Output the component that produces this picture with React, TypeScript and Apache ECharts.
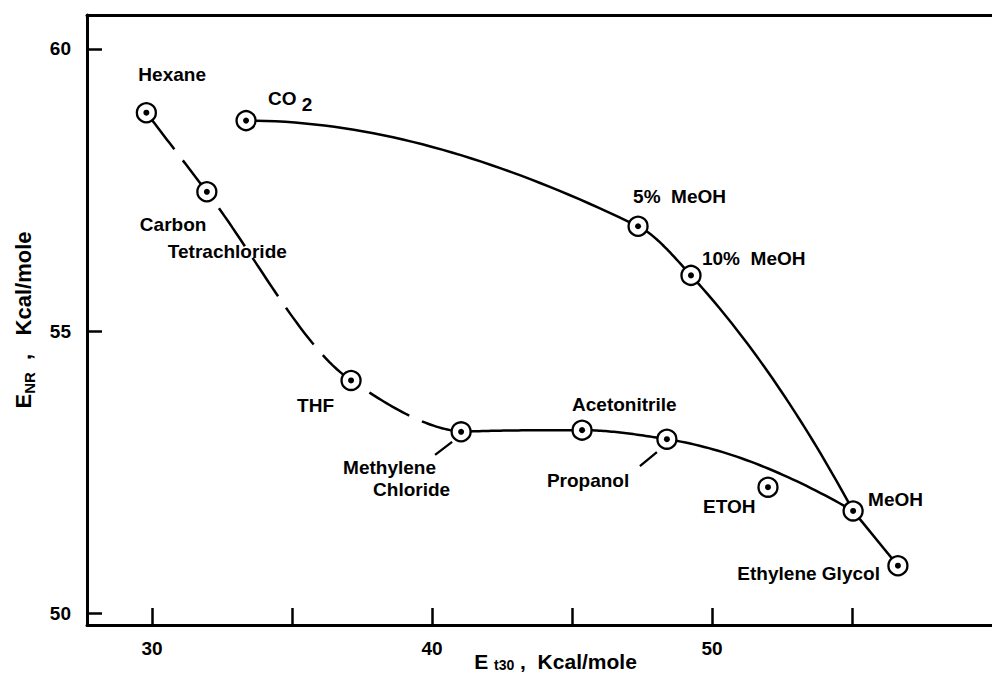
import React, { useEffect, useRef } from 'react';
import * as echarts from 'echarts';

// ---- data ----
const pointNames = [
  'Hexane', 'Carbon Tetrachloride', 'CO2', 'THF', 'Methylene Chloride', 'Acetonitrile',
  'Propanol', '5% MeOH', '10% MeOH', 'ETOH', 'MeOH', 'Ethylene Glycol',
];
const et30Values = [29.8, 31.96, 33.36, 37.11, 41.04, 45.36, 48.39, 47.36, 49.25, 52.0, 55.04, 56.64];
const enrValues = [58.87, 57.47, 58.73, 54.13, 53.22, 53.25, 53.09, 56.86, 55.99, 52.24, 51.82, 50.85];

// hand-drawn curves through the points (order along each curve)
const solventDashedPath = ['Hexane', 'Carbon Tetrachloride', 'THF', 'Methylene Chloride'];
const solventSolidPath = ['Methylene Chloride', 'Acetonitrile', 'Propanol', 'MeOH'];
const glycolPath = ['MeOH', 'Ethylene Glycol'];
const co2Path = ['CO2', '5% MeOH', '10% MeOH', 'MeOH'];

const xTickValues = [30, 35, 40, 45, 50, 55];
const xLabelValues = [30, 40, 50];
const yTickValues = [50, 55, 60];
const yLabelValues = [50, 55, 60];

// ---- label layout (presentation only) ----
const FONT = "'Liberation Sans', Arial, Helvetica, sans-serif";
const labelText: Record<string, string> = {
  'Hexane': '{t|Hexane}',
  'Carbon Tetrachloride': '{c|Carbon}\n{ci|Tetrachloride}',
  'CO2': '{t|CO }{sub|2}',
  'THF': '{t|THF}',
  'Methylene Chloride': '{m|Methylene}\n{mi|Chloride}',
  'Acetonitrile': '{t|Acetonitrile}',
  'Propanol': '{t|Propanol}',
  '5% MeOH': '{t|5%  MeOH}',
  '10% MeOH': '{t|10%  MeOH}',
  'ETOH': '{t|ETOH}',
  'MeOH': '{t|MeOH}',
  'Ethylene Glycol': '{t|Ethylene Glycol}',
};
const labelPlace: Record<string, [number, number, string]> = {
  'Hexane': [-8, -38, 'left'],
  'Carbon Tetrachloride': [-67, 46, 'left'],
  'CO2': [22, -22, 'left'],
  'THF': [-54, 25, 'left'],
  'Methylene Chloride': [-118, 47, 'left'],
  'Acetonitrile': [-10, -26, 'left'],
  'Propanol': [-120, 41, 'left'],
  '5% MeOH': [-5, -30, 'left'],
  '10% MeOH': [11, -17, 'left'],
  'ETOH': [-65, 19, 'left'],
  'MeOH': [15, -11, 'left'],
  'Ethylene Glycol': [-18, 8, 'right'],
};
// leader lines: start dx, dy, end dx, dy relative to the marker centre (pixels)
const leaderNames = ['Methylene Chloride', 'Propanol'];
const leaderPlace: Record<string, [number, number, number, number]> = {
  'Methylene Chloride': [-9, 10, -26, 23],
  'Propanol': [-10, 13, -27, 27],
};

const pt = (name: string) => {
  const i = pointNames.indexOf(name);
  return [et30Values[i], enrValues[i]];
};

// monotone cubic (PCHIP) through pixel points, sampled for drawing
function endSlope(h0: number, h1: number, d0: number, d1: number) {
  let m = ((2 * h0 + h1) * d0 - h0 * d1) / (h0 + h1);
  if (Math.sign(m) !== Math.sign(d0)) m = 0;
  else if (Math.sign(d0) !== Math.sign(d1) && Math.abs(m) > Math.abs(3 * d0)) m = 3 * d0;
  return m;
}
function pchipSample(p: number[][], steps = 40): number[][] {
  const n = p.length;
  if (n < 3) return p;
  const h: number[] = [];
  const d: number[] = [];
  for (let i = 0; i < n - 1; i++) {
    h.push(p[i + 1][0] - p[i][0]);
    d.push((p[i + 1][1] - p[i][1]) / h[i]);
  }
  const m: number[] = new Array(n).fill(0);
  for (let i = 1; i < n - 1; i++) {
    if (d[i - 1] * d[i] <= 0) m[i] = 0;
    else {
      const w1 = 2 * h[i] + h[i - 1];
      const w2 = h[i] + 2 * h[i - 1];
      m[i] = (w1 + w2) / (w1 / d[i - 1] + w2 / d[i]);
    }
  }
  m[0] = endSlope(h[0], h[1], d[0], d[1]);
  m[n - 1] = endSlope(h[n - 2], h[n - 3], d[n - 2], d[n - 3]);
  const out: number[][] = [p[0]];
  for (let i = 0; i < n - 1; i++) {
    for (let k = 1; k <= steps; k++) {
      const t = k / steps;
      const t2 = t * t, t3 = t2 * t;
      const h00 = 2 * t3 - 3 * t2 + 1, h10 = t3 - 2 * t2 + t;
      const h01 = -2 * t3 + 3 * t2, h11 = t3 - t2;
      const x = p[i][0] + t * h[i];
      const y = h00 * p[i][1] + h10 * h[i] * m[i] + h01 * p[i + 1][1] + h11 * h[i] * m[i + 1];
      out.push([x, y]);
    }
  }
  return out;
}

const baseText = { fontFamily: FONT, fontWeight: 'bold' as const, fontSize: 19, color: '#000' };

function curveSeries(path: string[], dash: number[] | null) {
  return {
    type: 'custom',
    coordinateSystem: 'cartesian2d',
    data: path.map(pt),
    silent: true,
    clip: false,
    z: 2,
    renderItem: (params: any, api: any) => {
      if (params.dataIndex !== 0) return null;
      const pix = path.map((n) => api.coord(pt(n)));
      return {
        type: 'polyline',
        shape: { points: pchipSample(pix) },
        style: {
          stroke: '#000',
          lineWidth: 2.5,
          fill: null,
          lineDash: dash || undefined,
          lineJoin: 'round',
        },
      };
    },
  };
}

export default function App() {
  const ref = useRef<HTMLDivElement>(null);
  useEffect(() => {
    const chart = echarts.init(ref.current!, null, { renderer: 'svg' });
    const ringData = pointNames.map((n, i) => {
      const [dx, dy, align] = labelPlace[n];
      return {
        name: n,
        value: [et30Values[i], enrValues[i]],
        label: {
          show: true,
          position: 'inside',
          offset: [dx, dy],
          align,
          verticalAlign: 'middle',
          formatter: labelText[n],
        },
      };
    });
    const option: any = {
      animation: false,
      backgroundColor: '#fff',
      grid: { left: 87, right: 0, top: 15, bottom: 54, containLabel: false, outerBoundsMode: 'none' },
      xAxis: [
        {
          type: 'value',
          min: 27.68,
          max: 60,
          position: 'bottom',
          splitLine: { show: false },
          axisLine: { show: true, onZero: false, lineStyle: { color: '#000', width: 3 } },
          axisTick: {
            show: true, inside: true, length: 17, customValues: xTickValues,
            lineStyle: { color: '#000', width: 2.5 },
          },
          axisLabel: {
            show: true, customValues: xLabelValues, margin: 14,
            fontFamily: FONT, fontWeight: 'bold', fontSize: 19, color: '#000',
          },
          name: '{m|E }{s|t30}{m| ,  Kcal/mole}',
          nameLocation: 'middle',
          nameGap: 25,
          nameMoveOverlap: false,
          nameTextStyle: {
            padding: [0, 0, 0, 32],
            rich: {
              m: { fontFamily: FONT, fontWeight: 'bold', fontSize: 21, color: '#000', lineHeight: 22 },
              s: { fontFamily: FONT, fontWeight: 'bold', fontSize: 14, color: '#000', padding: [8, 0, 0, 0] },
            },
          },
        },
        {
          type: 'value',
          min: 27.68,
          max: 60,
          position: 'top',
          splitLine: { show: false },
          axisLine: { show: true, onZero: false, lineStyle: { color: '#000', width: 3 } },
          axisTick: { show: false },
          axisLabel: { show: false },
        },
      ],
      yAxis: {
        type: 'value',
        min: 49.8,
        max: 60.6,
        splitLine: { show: false },
        axisLine: { show: true, onZero: false, lineStyle: { color: '#000', width: 3 } },
        axisTick: {
          show: true, inside: true, length: 15, customValues: yTickValues,
          lineStyle: { color: '#000', width: 2.5 },
        },
        axisLabel: {
          show: true, customValues: yLabelValues, margin: 16,
          fontFamily: FONT, fontWeight: 'bold', fontSize: 19, color: '#000',
        },
        name: '{m|E}{s|NR}{m|  ,   Kcal/mole}',
        nameLocation: 'middle',
        nameRotate: 90,
        nameGap: 50,
        nameMoveOverlap: false,
        nameTextStyle: {
          rich: {
            m: { fontFamily: FONT, fontWeight: 'bold', fontSize: 22, color: '#000', lineHeight: 24 },
            s: { fontFamily: FONT, fontWeight: 'bold', fontSize: 15, color: '#000', padding: [12, 0, 0, 0] },
          },
        },
      },
      series: [
        curveSeries(solventDashedPath, [46, 14]),
        curveSeries(solventSolidPath, null),
        curveSeries(glycolPath, null),
        curveSeries(co2Path, null),
        {
          type: 'custom',
          coordinateSystem: 'cartesian2d',
          data: leaderNames.map(pt),
          silent: true,
          clip: false,
          z: 2,
          renderItem: (params: any, api: any) => {
            const c = api.coord([api.value(0), api.value(1)]);
            const lp = leaderPlace[leaderNames[params.dataIndex]];
            return {
              type: 'line',
              shape: { x1: c[0] + lp[0], y1: c[1] + lp[1], x2: c[0] + lp[2], y2: c[1] + lp[3] },
              style: { stroke: '#000', lineWidth: 2.3 },
            };
          },
        },
        {
          type: 'scatter',
          data: ringData,
          symbol: 'circle',
          symbolSize: 19,
          silent: true,
          z: 3,
          itemStyle: { color: '#fff', borderColor: '#000', borderWidth: 2.3, opacity: 1 },
          label: {
            ...baseText,
            rich: {
              t: { ...baseText, lineHeight: 22 },
              c: { ...baseText, lineHeight: 27 },
              ci: { ...baseText, lineHeight: 27, padding: [0, 0, 0, 28] },
              m: { ...baseText, lineHeight: 22 },
              mi: { ...baseText, lineHeight: 22, padding: [0, 0, 0, 30] },
              sub: { ...baseText, padding: [12, 0, 0, 0] },
            },
          },
        },
        {
          type: 'scatter',
          data: pointNames.map((_, i) => [et30Values[i], enrValues[i]]),
          symbol: 'circle',
          symbolSize: 6,
          silent: true,
          z: 4,
          itemStyle: { color: '#000', opacity: 1 },
        },
      ],
    };
    chart.setOption(option);
    return () => chart.dispose();
  }, []);
  return (
    <div
      ref={ref}
      style={{ position: 'fixed', left: 0, top: 0, width: 992, height: 679, background: '#fff' }}
    />
  );
}
